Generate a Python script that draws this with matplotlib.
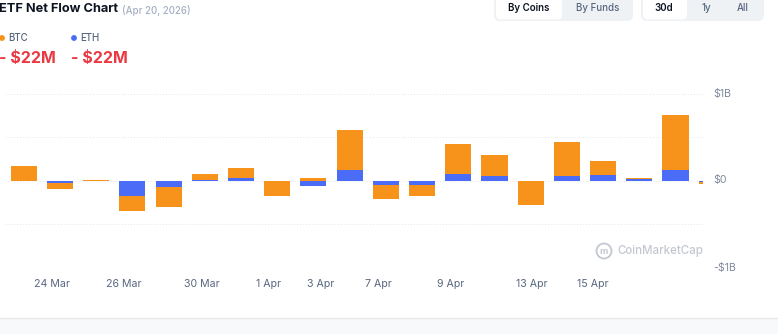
import matplotlib
matplotlib.use("Agg")
import matplotlib.pyplot as plt
from matplotlib.patches import FancyBboxPatch, Circle
import numpy as np

plt.rcParams['font.family'] = ['Inter', 'DejaVu Sans']

# ---------------- data ----------------
btc_flow = [0.165, -0.069, 0.006, -0.168, -0.221, 0.065, 0.122, -0.172, 0.023, 0.462,
            -0.164, -0.126, 0.340, 0.237, -0.271, 0.393, 0.164, 0.018, 0.630, -0.022]
eth_flow = [-0.010, -0.034, -0.004, -0.183, -0.080, 0.008, 0.027, -0.010, -0.065, 0.122,
            -0.053, -0.057, 0.080, 0.053, -0.010, 0.053, 0.065, 0.015, 0.126, -0.022]
tick_labels = ["24 Mar", "26 Mar", "30 Mar", "1 Apr", "3 Apr", "7 Apr", "9 Apr", "13 Apr", "15 Apr"]
y_ticks = [-1, 0, 1]
y_tick_labels = ["-$1B", "$0", "$1B"]
title = "ETF Net Flow Chart"
subtitle = "(Apr 20, 2026)"
legend_names = ["BTC", "ETH"]
legend_values = ["- $22M", "- $22M"]

# ---------------- layout ----------------
W, H = 778, 334
fig = plt.figure(figsize=(W / 100, H / 100), dpi=100)
fig.patch.set_facecolor("white")

def fx(x):
    return x / W

def fy(y):
    return 1 - y / H

ax_left, ax_right, ax_top, ax_bot = 5, 703, 93.5, 267.5
ax = fig.add_axes([fx(ax_left), fy(ax_bot), (ax_right - ax_left) / W, (ax_bot - ax_top) / H])
ax.set_facecolor("none")

ORANGE = "#F7931A"
BLUE = "#4A6CF6"

n = len(btc_flow)
x = np.arange(n)
btc = np.array(btc_flow)
eth = np.array(eth_flow)
bw = 0.72

# same-sign stacking: ETH first, BTC on top when same sign
btc_bottom = np.where(np.sign(btc) == np.sign(eth), eth, 0.0)
ax.bar(x, eth, width=bw, color=BLUE, zorder=3, linewidth=0)
ax.bar(x, btc, bottom=btc_bottom, width=bw, color=ORANGE, zorder=3, linewidth=0)

ax.set_xlim(-0.52, 18.76)
ax.set_ylim(-1, 1)

for gy in [-1, -0.5, 0, 0.5, 1]:
    ax.axhline(gy, color="#e3e6ec", linestyle=(0, (1, 2)), linewidth=0.7, zorder=1)

for s in ax.spines.values():
    s.set_visible(False)
ax.set_yticks([])
ax.set_xticks([])

# x tick labels
tick_pos = [0.77, 2.76, 4.92, 6.77, 8.2, 9.78, 11.8, 14.03, 15.72]
for p, lab in zip(tick_pos, tick_labels):
    ax.text(p, -1.19, lab, ha="center", va="center", fontsize=7.6, color="#58667e",
            transform=ax.transData, clip_on=False)

# y tick labels on right
for v, lab in zip(y_ticks, y_tick_labels):
    ax.text((713 - ax_left) / (ax_right - ax_left), v, lab, ha="left", va="center",
            fontsize=7.6, color="#808a9d", transform=ax.get_yaxis_transform(), clip_on=False)

# watermark
fig.text(fx(617), fy(251), "CoinMarketCap", fontsize=8.3, color="#c3c8d0",
         ha="left", va="center", fontweight="medium")
circ = Circle((604 / 100, (H - 251) / 100), 0.075, transform=fig.dpi_scale_trans,
              fill=False, edgecolor="#c3c8d0", linewidth=1.3)
fig.patches.append(circ)
fig.text(fx(604), fy(251), "m", fontsize=6.5, color="#c3c8d0", ha="center", va="center",
         fontweight="bold")

# header
fig.text(fx(-1), fy(9.5), title, fontsize=9.2, fontweight="bold", color="#0d1421",
         ha="left", va="center")
fig.text(fx(122), fy(10.5), subtitle, fontsize=7, color="#a6b0c3", ha="left", va="center",
         fontweight="medium")

# legend
leg_x = [0, 72]
leg_cols = [ORANGE, BLUE]
for lx, name, val, c in zip(leg_x, legend_names, legend_values, leg_cols):
    fig.patches.append(Circle(((lx + 2) / 100, (H - 38) / 100), 0.022,
                              transform=fig.dpi_scale_trans, color=c))
    fig.text(fx(lx + 8), fy(38), name, fontsize=7, color="#58667e", ha="left", va="center",
             fontweight="medium")
    fig.text(fx(lx - 1), fy(58), val, fontsize=11.5, color="#ea3943", ha="left", va="center",
             fontweight="bold")

# buttons
def box(x0, y0, x1, y1, fc, r=0.05):
    fig.patches.append(FancyBboxPatch((x0 / 100, (H - y1) / 100), (x1 - x0) / 100, (y1 - y0) / 100,
                                      boxstyle=f"round,pad=0,rounding_size={r}",
                                      transform=fig.dpi_scale_trans, facecolor=fc,
                                      edgecolor="none"))

box(494, -6, 633, 21, "#eff2f5", 0.06)
box(496, -6, 562, 19.5, "white", 0.05)
box(641, -6, 764, 21, "#eff2f5", 0.06)
box(643, -6, 687, 19.5, "white", 0.05)
fig.text(fx(529), fy(8), "By Coins", fontsize=7, fontweight="semibold", color="#0d1421",
         ha="center", va="center")
fig.text(fx(598), fy(8), "By Funds", fontsize=7, fontweight="medium", color="#58667e",
         ha="center", va="center")
fig.text(fx(664), fy(8), "30d", fontsize=7, fontweight="semibold", color="#0d1421",
         ha="center", va="center")
fig.text(fx(706), fy(8), "1y", fontsize=7, fontweight="medium", color="#58667e",
         ha="center", va="center")
fig.text(fx(743), fy(8), "All", fontsize=7, fontweight="medium", color="#58667e",
         ha="center", va="center")

# bottom band
fig.patches.append(plt.Rectangle((0, 0), 1, 16 / H, transform=fig.transFigure,
                                 facecolor="#f8f9fa", edgecolor="none", zorder=0))
fig.add_artist(plt.Line2D([0, 1], [16 / H, 16 / H], transform=fig.transFigure,
                          color="#e6e8ec", linewidth=1))

fig.savefig("out.png", dpi=100, facecolor="white")
